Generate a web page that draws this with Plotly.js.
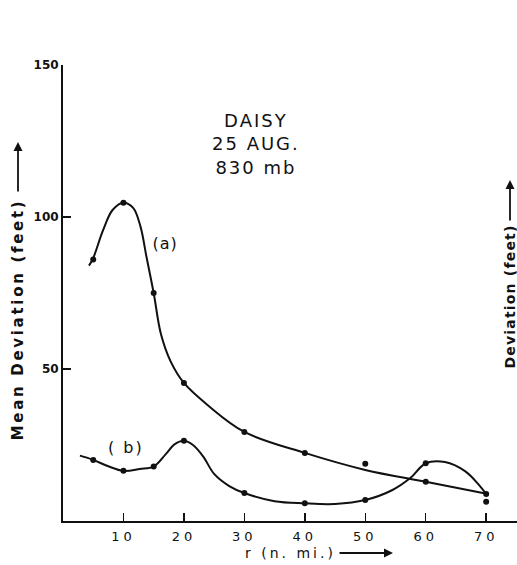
<!DOCTYPE html>
<html>
<head>
<meta charset="utf-8">
<script src="https://cdn.plot.ly/plotly-3.0.1.min.js"></script>
<style>
  html, body { margin: 0; padding: 0; background: #fff; }
  #chart { width: 517px; height: 565px; }
  /* lettering is spaced out like hand-stencilled labels */
  #chart .xtick text { letter-spacing: 4px; }
  #chart g.annotation[data-index="0"] text { letter-spacing: 2px; }
  #chart g.annotation[data-index="1"] text { letter-spacing: 1px; }
  #chart g.annotation[data-index="2"] text { letter-spacing: 2px; }
  #chart g.annotation[data-index="3"] text { letter-spacing: 2.7px; }
  #chart g.annotation[data-index="5"] text { letter-spacing: 1.2px; }
  #chart g.annotation[data-index="7"] text { letter-spacing: 3px; }
</style>
</head>
<body>
<div id="chart"></div>
<script>
// Observed mean deviations, radius in nautical miles
const radiusA = [5, 10, 15, 20, 30, 40, 50, 60, 70];
const devA    = [86, 104.7, 75, 45.4, 29.3, 22.4, 18.8, 12.9, 8.9];
const radiusB = [5, 10, 15, 20, 30, 40, 50, 60, 70];
const devB    = [20.1, 16.5, 17.9, 26.4, 9.2, 5.8, 6.9, 19, 6.3];

// Hand-faired curves through the observations
const curveAx = [4.3, 5, 6.6, 8.2, 10, 11.6, 12.8, 13.8, 15, 16.2, 17.8, 20, 24, 30, 40, 50, 60, 70.3];
const curveAy = [84, 86.5, 95.5, 102.3, 104.7, 103, 97, 87, 75, 61.5, 52.5, 45.4, 38, 29.3, 22.4, 16.8, 12.9, 8.9];
const curveBx = [2.8, 5, 7.5, 10, 12.7, 15, 17, 18.5, 20, 21.5, 23.2, 25, 27.5, 30, 35, 40, 45, 50, 54.5, 57.5, 60, 63.2, 66.5, 68.8, 70.1];
const curveBy = [21.5, 20.1, 18, 16.5, 17.1, 17.9, 22, 25.3, 26.4, 25, 21.2, 15.5, 11.5, 9.2, 6.5, 5.8, 5.6, 6.9, 10.2, 14.2, 19, 19.4, 16.4, 11.9, 8.6];

const xTicks = [10, 20, 30, 40, 50, 60, 70];
const yTicks = [50, 100, 150];

const FONT = 'DejaVu Sans, sans-serif';
const INK = '#111';

const curveLine = { color: INK, width: 2, shape: 'spline', smoothing: 1 };

const traces = [
  { x: curveAx, y: curveAy, mode: 'lines', line: curveLine, hoverinfo: 'skip' },
  { x: curveBx, y: curveBy, mode: 'lines', line: curveLine, hoverinfo: 'skip' },
  { x: radiusA, y: devA, mode: 'markers', marker: { color: INK, size: 6 } },
  { x: radiusB, y: devB, mode: 'markers', marker: { color: INK, size: 6 } }
];

// pixel helpers for placing free text around the plot frame
const L = 63, T = 65, W = 454, H = 456;
const px = v => (v - L) / W;
const py = v => (T + H - v) / H;

const layout = {
  width: 517, height: 565,
  margin: { l: L, r: 517 - L - W, t: T, b: 565 - T - H },
  paper_bgcolor: '#fff', plot_bgcolor: '#fff',
  showlegend: false,
  font: { family: FONT, color: INK },
  xaxis: {
    range: [0, 75.1], showgrid: false, zeroline: false,
    showline: true, linecolor: INK, linewidth: 2,
    tickmode: 'array', tickvals: xTicks, ticktext: xTicks.map(String),
    ticks: 'inside', ticklen: 8, tickwidth: 1.5, tickcolor: INK,
    ticklabelstandoff: 2,
    tickfont: { size: 13, family: FONT, color: INK }
  },
  yaxis: {
    range: [0, 150], showgrid: false, zeroline: false,
    showline: true, linecolor: INK, linewidth: 2,
    tickmode: 'array', tickvals: yTicks, ticktext: yTicks.map(String),
    ticks: 'inside', ticklen: 8, tickwidth: 1.5, tickcolor: INK,
    tickfont: { size: 12, family: FONT, color: INK, weight: 'bold' }
  },
  annotations: [
    { xref: 'x', yref: 'y', x: 32.0, y: 124, xanchor: 'center', yanchor: 'middle',
      text: 'DAISY<br>25 AUG.<br>830 mb', showarrow: false,
      font: { size: 18, family: FONT, color: INK }, align: 'center' },
    { xref: 'x', yref: 'y', x: 16.9, y: 91.4, xanchor: 'center', yanchor: 'middle',
      text: '(a)', showarrow: false, font: { size: 16, family: FONT, color: INK } },
    { xref: 'x', yref: 'y', x: 10.4, y: 24.3, xanchor: 'center', yanchor: 'middle',
      text: '( b)', showarrow: false, font: { size: 16, family: FONT, color: INK } },
    // left axis title and arrow
    { xref: 'paper', yref: 'paper', x: px(18), y: py(320), xanchor: 'center', yanchor: 'middle',
      text: 'Mean Deviation (feet)', textangle: -90, showarrow: false,
      font: { size: 15, family: FONT, color: INK, weight: 'bold' } },
    { xref: 'paper', yref: 'paper', x: px(18), y: py(142), text: '', showarrow: true,
      ax: 0, ay: 51, arrowhead: 2, arrowsize: 1, arrowwidth: 1.8, arrowcolor: INK },
    // right axis title and arrow
    { xref: 'paper', yref: 'paper', x: px(510), y: py(297), xanchor: 'center', yanchor: 'middle',
      text: 'Deviation (feet)', textangle: -90, showarrow: false,
      font: { size: 14, family: FONT, color: INK, weight: 'bold' } },
    { xref: 'paper', yref: 'paper', x: px(510), y: py(180), text: '', showarrow: true,
      ax: 0, ay: 42, arrowhead: 2, arrowsize: 1, arrowwidth: 1.8, arrowcolor: INK },
    // x axis title and arrow
    { xref: 'paper', yref: 'paper', x: px(290), y: py(553), xanchor: 'center', yanchor: 'middle',
      text: 'r (n. mi.)', showarrow: false, font: { size: 14, family: FONT, color: INK } },
    { xref: 'paper', yref: 'paper', x: px(393), y: py(553), text: '', showarrow: true,
      ax: -55, ay: 0, arrowhead: 2, arrowsize: 1, arrowwidth: 1.8, arrowcolor: INK }
  ]
};

Plotly.newPlot('chart', traces, layout, { staticPlot: true, displayModeBar: false });
</script>
</body>
</html>
